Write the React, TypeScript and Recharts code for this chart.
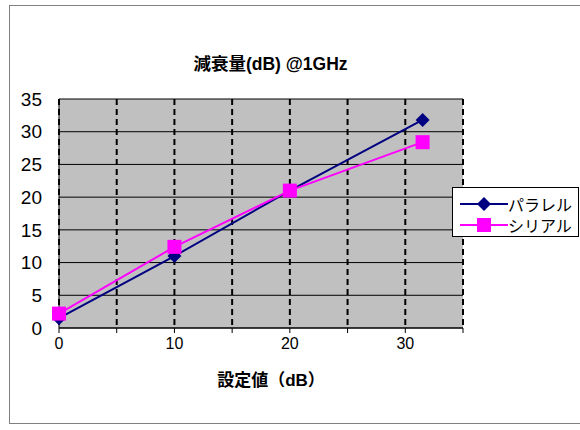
import { LineChart, Line, XAxis, YAxis, CartesianGrid } from 'recharts';

const settings = [0, 10, 20, 31.5];
const parallel = [1.5, 11, 21, 31.8];
const serial = [2.2, 12.4, 21, 28.4];
const xTicks = [0, 5, 10, 15, 20, 25, 30, 35];
const yTicks = [0, 5, 10, 15, 20, 25, 30, 35];

const seriesDefs = [
  { key: 'parallel', name: 'パラレル', color: '#000080', shape: 'diamond' },
  { key: 'serial', name: 'シリアル', color: '#FF00FF', shape: 'square' },
];

const data = settings.map((x, i) => ({ x, parallel: parallel[i], serial: serial[i] }));

const FONT = '"Liberation Sans", Arial, "Noto Sans CJK JP", sans-serif';

const Marker = ({ cx, cy, color, shape }: { cx: number; cy: number; color: string; shape: string }) => {
  if (shape === 'diamond') {
    const r = 7;
    return <path d={`M${cx},${cy - r}L${cx + r},${cy}L${cx},${cy + r}L${cx - r},${cy}Z`} fill={color} />;
  }
  return <rect x={cx - 7} y={cy - 7} width={14} height={14} fill={color} />;
};

const LegendBox = () => (
  <div
    style={{
      position: 'absolute',
      left: 452,
      top: 187,
      width: 125,
      height: 48,
      border: '1.5px solid #000',
      background: '#fff',
      fontFamily: FONT,
      fontSize: 16,
    }}
  >
    {seriesDefs.map((s, i) => (
      <div key={s.key} style={{ display: 'flex', alignItems: 'center', height: 21, marginTop: i === 0 ? 5 : 0 }}>
        <svg width={50} height={20} style={{ marginLeft: 5 }}>
          <line x1={2} y1={10} x2={50} y2={10} stroke={s.color} strokeWidth={2} />
          <Marker cx={26} cy={10} color={s.color} shape={s.shape} />
        </svg>
        <span style={{ color: '#000' }}>{s.name}</span>
      </div>
    ))}
  </div>
);

export default function App() {
  return (
    <div style={{ position: 'absolute', left: 0, top: 0, width: 580, height: 430, background: '#fff', overflow: 'hidden' }}>
      <div
        style={{
          position: 'absolute',
          left: 9,
          top: 5,
          width: 590,
          height: 417,
          border: '1.5px solid #808080',
        }}
      />
      <div
        style={{
          position: 'absolute',
          left: 0,
          width: 541,
          top: 50,
          textAlign: 'center',
          fontFamily: FONT,
          fontWeight: 'bold',
          fontSize: 17.5,
        }}
      >
        減衰量(dB) @1GHz
      </div>
      <div
        style={{
          position: 'absolute',
          left: 0,
          width: 542,
          top: 366,
          textAlign: 'center',
          fontFamily: FONT,
          fontWeight: 'bold',
          fontSize: 17,
        }}
      >
        設定値（dB）
      </div>
      <div style={{ position: 'absolute', left: 0, top: 0 }}>
        <LineChart width={580} height={430} data={data} margin={{ top: 99, right: 117, bottom: 72, left: 9 }}>
          <CartesianGrid vertical={false} stroke="#000" strokeWidth={1} fill="#c0c0c0" fillOpacity={1} />
          <CartesianGrid horizontal={false} stroke="#000" strokeWidth={2} strokeDasharray="6 4" />
          <XAxis
            dataKey="x"
            type="number"
            domain={[0, 35]}
            ticks={xTicks}
            interval={0}
            tickFormatter={(v: number) => (v % 10 === 0 && v < 35 ? String(v) : '')}
            height={30}
            stroke="#000"
            tickSize={5}
            tickMargin={5}
            tick={{ fill: '#000', fontSize: 16, fontFamily: FONT }}
          />
          <YAxis
            type="number"
            domain={[0, 35]}
            ticks={yTicks}
            interval={0}
            width={50}
            stroke="#000"
            tickLine={false}
            tickSize={0}
            tickMargin={17}
            tick={{ fill: '#000', fontSize: 19, fontFamily: FONT }}
          />
          {seriesDefs.map((s) => (
            <Line
              key={s.key}
              dataKey={s.key}
              name={s.name}
              stroke={s.color}
              strokeWidth={2}
              isAnimationActive={false}
              dot={(p: any) => <Marker key={`${s.key}-${p.index}`} cx={p.cx} cy={p.cy} color={s.color} shape={s.shape} />}
              activeDot={false}
            />
          ))}
        </LineChart>
      </div>
      <LegendBox />
    </div>
  );
}
